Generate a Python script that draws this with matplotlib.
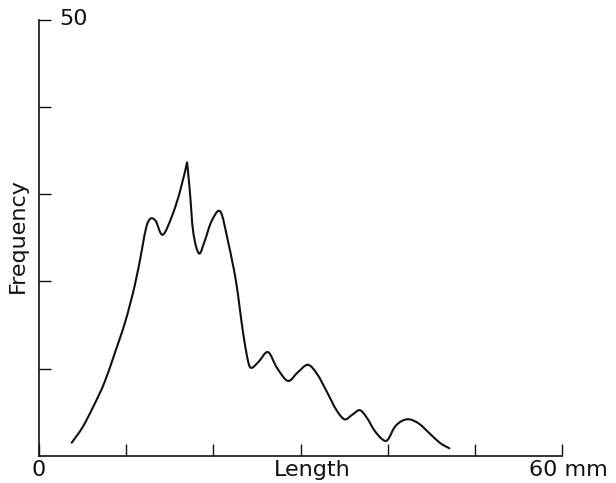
import matplotlib
matplotlib.use("Agg")
import numpy as np
import matplotlib.pyplot as plt
from matplotlib.path import Path
from matplotlib.patches import PathPatch

# Length-frequency curve (length in mm, frequency counts)
length_mm = [3.75, 5.0, 6.3, 7.5, 8.7, 9.9, 11.0, 11.8, 12.3, 12.8, 13.4,
             14.2, 15.3, 16.2, 16.99, 17.3, 17.7, 18.35, 19.0, 19.8, 20.8,
             21.7, 22.6, 23.4, 24.0, 24.4, 25.2, 26.27, 27.3, 28.56, 29.7,
             30.85, 31.9, 32.95, 34.1, 35.05, 35.9, 36.8, 37.6, 38.5, 39.4,
             40.0, 40.8, 41.6, 42.5, 43.6, 44.8, 46.0, 47.08]
frequency = [1.52, 3.3, 5.8, 8.4, 11.8, 15.4, 19.6, 23.6, 26.2, 27.2, 26.9,
             25.34, 27.6, 30.4, 33.63, 30.4, 25.6, 23.2, 24.6, 26.9, 28.0,
             24.5, 20.0, 14.2, 10.8, 10.1, 10.8, 11.9, 10.1, 8.6, 9.6,
             10.45, 9.4, 7.5, 5.3, 4.2, 4.7, 5.25, 4.4, 2.9, 1.9,
             1.85, 3.3, 4.0, 4.2, 3.7, 2.6, 1.5, 0.88]

x_ticks = [0, 10, 20, 30, 40, 50, 60]
y_ticks = [10, 20, 30, 40, 50]


def smooth_path(xs, ys, sharp=()):
    """Cubic Bezier path through every point, Catmull-Rom tangents."""
    pts = np.column_stack([xs, ys]).astype(float)
    n = len(pts)
    tang = np.zeros_like(pts)
    for i in range(n):
        if i in sharp:
            continue
        a = pts[max(i - 1, 0)]
        b = pts[min(i + 1, n - 1)]
        tang[i] = (b - a) / 6.0
    verts = [pts[0]]
    codes = [Path.MOVETO]
    for i in range(n - 1):
        p0, p1 = pts[i], pts[i + 1]
        verts += [p0 + tang[i], p1 - tang[i + 1], p1]
        codes += [Path.CURVE4] * 3
    return Path(verts, codes)


fig = plt.figure(figsize=(6.16, 4.83), dpi=100)
ax = fig.add_axes([39 / 616, 27 / 483, (562 - 39) / 616, (463.5 - 27) / 483])

peak_index = frequency.index(max(frequency))
curve = smooth_path(length_mm, frequency, sharp=(peak_index,))
ax.add_patch(PathPatch(curve, facecolor="none", edgecolor="#111111",
                       lw=1.5, joinstyle="round", capstyle="round"))

ax.set_xlim(0, 60)
ax.set_ylim(0, 50)
for side in ("top", "right"):
    ax.spines[side].set_visible(False)
for side in ("left", "bottom"):
    ax.spines[side].set_linewidth(1.2)
    ax.spines[side].set_color("#111111")

ax.set_xticks(x_ticks)
ax.set_yticks(y_ticks)
ax.tick_params(axis="both", direction="in", length=8.5, width=1.0,
               color="#111111", labelbottom=False, labelleft=False)

txt = dict(color="#111111", family="DejaVu Sans", fontsize=16)
ax.text(0, -1.65, "0", ha="center", va="center", **txt)
ax.text(31.4, -1.65, "Length", ha="center", va="center", **txt)
ax.text(56.2, -1.65, "60 mm", ha="left", va="center", **txt)
ax.text(2.3, 50.05, "50", ha="left", va="center", **txt)
ax.text(-2.4, 25.2, "Frequency", ha="center", va="center", rotation=90, **txt)

fig.savefig("out.png", dpi=100)
